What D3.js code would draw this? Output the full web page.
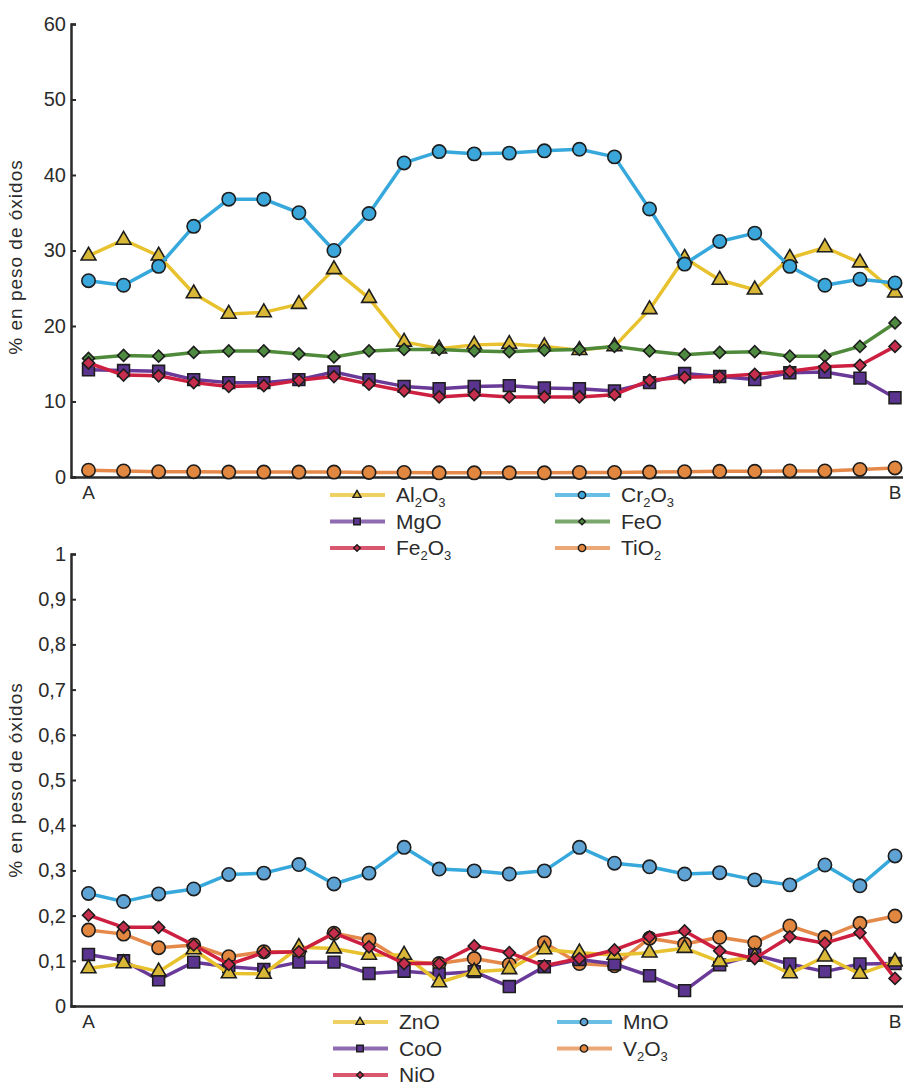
<!DOCTYPE html>
<html>
<head>
<meta charset="utf-8">
<script src="https://cdn.jsdelivr.net/npm/d3@7"></script>
<style>
  html, body { margin: 0; padding: 0; background: #fff; }
  svg { display: block; font-family: "Liberation Sans", Arial, Helvetica, sans-serif; }
</style>
</head>
<body>
<svg id="chart" width="903" height="1088"></svg>
<script>
// ---------- DATA ----------
const positions = [1,2,3,4,5,6,7,8,9,10,11,12,13,14,15,16,17,18,19,20,21,22,23,24];
const endLabels = ["A", "B"];

// Top panel (major oxides, wt %)
const al2o3 = [29.3,31.4,29.3,24.3,21.6,21.8,22.9,27.5,23.7,17.9,17.0,17.5,17.6,17.3,16.8,17.3,22.2,29.0,26.1,24.8,29.0,30.4,28.4,24.4];
const cr2o3 = [26.0,25.4,27.9,33.2,36.8,36.8,35.0,30.0,34.9,41.6,43.1,42.8,42.9,43.2,43.4,42.4,35.5,28.2,31.2,32.3,27.9,25.4,26.2,25.7];
const mgo   = [14.2,14.1,14.0,12.9,12.5,12.5,12.9,13.9,12.9,12.0,11.7,12.0,12.1,11.8,11.7,11.4,12.5,13.7,13.3,12.9,13.8,13.9,13.1,10.5];
const feo   = [15.7,16.1,16.0,16.5,16.7,16.7,16.3,15.9,16.7,16.9,16.9,16.7,16.6,16.8,16.9,17.3,16.7,16.2,16.5,16.6,16.0,16.0,17.3,20.4];
const fe2o3 = [15.1,13.5,13.4,12.5,12.0,12.1,12.8,13.3,12.3,11.4,10.6,10.9,10.6,10.6,10.6,10.9,12.8,13.2,13.3,13.6,14.0,14.6,14.8,17.3];
const tio2  = [0.9,0.8,0.7,0.7,0.65,0.65,0.65,0.65,0.6,0.6,0.55,0.55,0.55,0.55,0.6,0.6,0.65,0.7,0.75,0.75,0.8,0.8,1.0,1.2];
const topTicks = [0,10,20,30,40,50,60];

// Bottom panel (minor oxides, wt %)
const zno  = [0.083,0.094,0.076,0.125,0.072,0.071,0.130,0.127,0.113,0.113,0.052,0.076,0.081,0.125,0.118,0.113,0.118,0.128,0.098,0.109,0.072,0.109,0.071,0.098];
const coo  = [0.114,0.100,0.058,0.097,0.087,0.081,0.097,0.097,0.072,0.077,0.071,0.076,0.043,0.087,0.103,0.093,0.067,0.034,0.091,0.113,0.093,0.076,0.093,0.094];
const nio  = [0.201,0.174,0.174,0.135,0.092,0.118,0.120,0.161,0.131,0.094,0.094,0.133,0.118,0.089,0.105,0.124,0.153,0.166,0.122,0.105,0.153,0.139,0.162,0.061];
const mno  = [0.249,0.231,0.248,0.259,0.291,0.294,0.313,0.270,0.294,0.351,0.303,0.299,0.292,0.299,0.351,0.316,0.308,0.292,0.295,0.279,0.268,0.312,0.266,0.332];
const v2o3 = [0.168,0.159,0.129,0.135,0.109,0.120,0.120,0.161,0.146,0.098,0.094,0.105,0.092,0.140,0.094,0.089,0.150,0.137,0.152,0.140,0.177,0.152,0.183,0.199];
const bottomTicks = [0,0.1,0.2,0.3,0.4,0.5,0.6,0.7,0.8,0.9,1];
const bottomTickLabels = ["0","0,1","0,2","0,3","0,4","0,5","0,6","0,7","0,8","0,9","1"];

const yTitle = "% en peso de óxidos";

// ---------- STYLE ----------
const C = {
  yellow: {line: "#E8C22E", fill: "#D9B838"},
  blue:   {line: "#36A8DC", fill: "#3AA6D9"},
  blue2:  {line: "#36A8DC", fill: "#5FA3D4"},
  purple: {line: "#6A3A98", fill: "#5B3490"},
  green:  {line: "#4E8A3A", fill: "#4E8B40"},
  red:    {line: "#CD1F40", fill: "#C72D4C"},
  orange: {line: "#E5894A", fill: "#E2873F"}
};

// legend label pieces: [text, isSubscript]
const topSeries = [
  {name: [["Al",0],["2",1],["O",0],["3",1]], values: al2o3, color: C.yellow, shape: "tri", col: 0, row: 0},
  {name: [["Cr",0],["2",1],["O",0],["3",1]], values: cr2o3, color: C.blue, shape: "circ", col: 1, row: 0},
  {name: [["FeO",0]], values: feo, color: C.green, shape: "dia", col: 1, row: 1},
  {name: [["MgO",0]], values: mgo, color: C.purple, shape: "sq", col: 0, row: 1},
  {name: [["Fe",0],["2",1],["O",0],["3",1]], values: fe2o3, color: C.red, shape: "dia", col: 0, row: 2},
  {name: [["TiO",0],["2",1]], values: tio2, color: C.orange, shape: "circ", col: 1, row: 2}
];
const bottomSeries = [
  {name: [["MnO",0]], values: mno, color: C.blue2, shape: "circ", col: 1, row: 0},
  {name: [["V",0],["2",1],["O",0],["3",1]], values: v2o3, color: C.orange, shape: "circ", col: 1, row: 1},
  {name: [["CoO",0]], values: coo, color: C.purple, shape: "sq", col: 0, row: 1},
  {name: [["ZnO",0]], values: zno, color: C.yellow, shape: "tri", col: 0, row: 0},
  {name: [["NiO",0]], values: nio, color: C.red, shape: "dia", col: 0, row: 2}
];

const svg = d3.select("#chart");
const axisColor = "#2a2a2a";
const textColor = "#2b2b2b";

const x = d3.scalePoint().domain(positions).range([88.5, 895]);

function symbolPath(shape, big) {
  const s = big ? 1 : 0.55;
  if (shape === "circ") return d3.symbol(d3.symbolCircle, 140 * s * s)();
  if (shape === "sq") return d3.symbol(d3.symbolSquare, 140 * s * s)();
  if (shape === "tri") return d3.symbol(d3.symbolTriangle, 95 * s * s)();
  if (shape === "dia") return d3.symbol(d3.symbolSquare, 72 * s * s)();
}

function drawPanel(cfg) {
  const y = d3.scaleLinear().domain(cfg.domain).range([cfg.yBottom, cfg.yTop]);
  const g = svg.append("g");

  // y axis
  const yAxis = d3.axisLeft(y)
    .tickValues(cfg.ticks)
    .tickFormat((d, i) => cfg.tickLabels[i])
    .tickSize(-5)
    .tickPadding(5);
  const ya = g.append("g").attr("transform", `translate(${cfg.xAxisX},0)`).call(yAxis);
  ya.select(".domain").attr("stroke", axisColor).attr("stroke-width", 2.5);
  ya.selectAll(".tick line").attr("stroke", axisColor).attr("stroke-width", 2);
  ya.selectAll(".tick text").attr("fill", textColor).attr("font-size", 20)
    .attr("font-family", "'Liberation Sans', Arial, sans-serif");

  // x axis line
  const xAxisScale = d3.scaleLinear().domain([0, 1]).range([cfg.xAxisX - 1, 905]);
  const xa = g.append("g").attr("transform", `translate(0,${cfg.yBottom})`)
    .call(d3.axisBottom(xAxisScale).tickValues([]).tickSizeOuter(0));
  xa.select(".domain").attr("stroke", axisColor).attr("stroke-width", 2.5);

  // end labels A / B
  g.selectAll("text.end").data([positions[0], positions[positions.length - 1]])
    .join("text").attr("class", "end")
    .attr("x", d => x(d)).attr("y", cfg.yBottom + 22)
    .attr("text-anchor", "middle").attr("font-size", 19).attr("fill", textColor)
    .text((d, i) => endLabels[i]);

  // y title
  g.append("text")
    .attr("transform", `translate(${cfg.titleX},${cfg.titleY}) rotate(-90)`)
    .attr("text-anchor", "middle").attr("font-size", 19).attr("letter-spacing", 1)
    .attr("fill", textColor)
    .text(yTitle);

  // series
  const line = d3.line().x((d, i) => x(positions[i])).y(d => y(d));
  cfg.series.forEach(s => {
    const sg = g.append("g");
    sg.append("path").datum(s.values).attr("d", line)
      .attr("fill", "none").attr("stroke", s.color.line)
      .attr("stroke-width", 3.5).attr("stroke-linejoin", "round");
    sg.selectAll("path.m").data(s.values).join("path").attr("class", "m")
      .attr("d", symbolPath(s.shape, true))
      .attr("transform", (d, i) => `translate(${x(positions[i])},${y(d)})${s.shape === "dia" ? " rotate(45)" : ""}`)
      .attr("fill", s.color.fill).attr("stroke", "#1d1d1d").attr("stroke-width", 1.6);
  });

  // legend
  const lg = g.append("g");
  cfg.series.forEach(s => {
    const lx = cfg.legendX[s.col];
    const ly = cfg.legendY + s.row * cfg.legendDY;
    lg.append("line").attr("x1", lx).attr("x2", lx + 55).attr("y1", ly).attr("y2", ly)
      .attr("stroke", s.color.line).attr("stroke-width", 4).attr("stroke-opacity", 0.75);
    lg.append("path").attr("d", symbolPath(s.shape, false))
      .attr("transform", `translate(${lx + 27},${ly})${s.shape === "dia" ? " rotate(45)" : ""}`)
      .attr("fill", s.color.fill).attr("stroke", "#1d1d1d").attr("stroke-width", 1.4);
    const t = lg.append("text").attr("x", lx + 66).attr("y", ly + 7)
      .attr("font-size", 21).attr("fill", textColor);
    let prevSub = false;
    s.name.forEach(([txt, sub]) => {
      let dy = null;
      if (sub && !prevSub) dy = 5;
      if (!sub && prevSub) dy = -5;
      t.append("tspan").text(txt)
        .attr("font-size", sub ? 13 : 21)
        .attr("dy", dy);
      prevSub = !!sub;
    });
  });
}

drawPanel({
  domain: [0, 60], yTop: 24, yBottom: 477, xAxisX: 71,
  ticks: topTicks, tickLabels: topTicks.map(String),
  titleX: 22, titleY: 257,
  series: topSeries,
  legendX: [330, 555], legendY: 495, legendDY: 26.5
});

drawPanel({
  domain: [0, 1], yTop: 554, yBottom: 1006, xAxisX: 71,
  ticks: bottomTicks, tickLabels: bottomTickLabels,
  titleX: 22, titleY: 780,
  series: bottomSeries,
  legendX: [333, 557], legendY: 1022, legendDY: 26.5
});
</script>
</body>
</html>
